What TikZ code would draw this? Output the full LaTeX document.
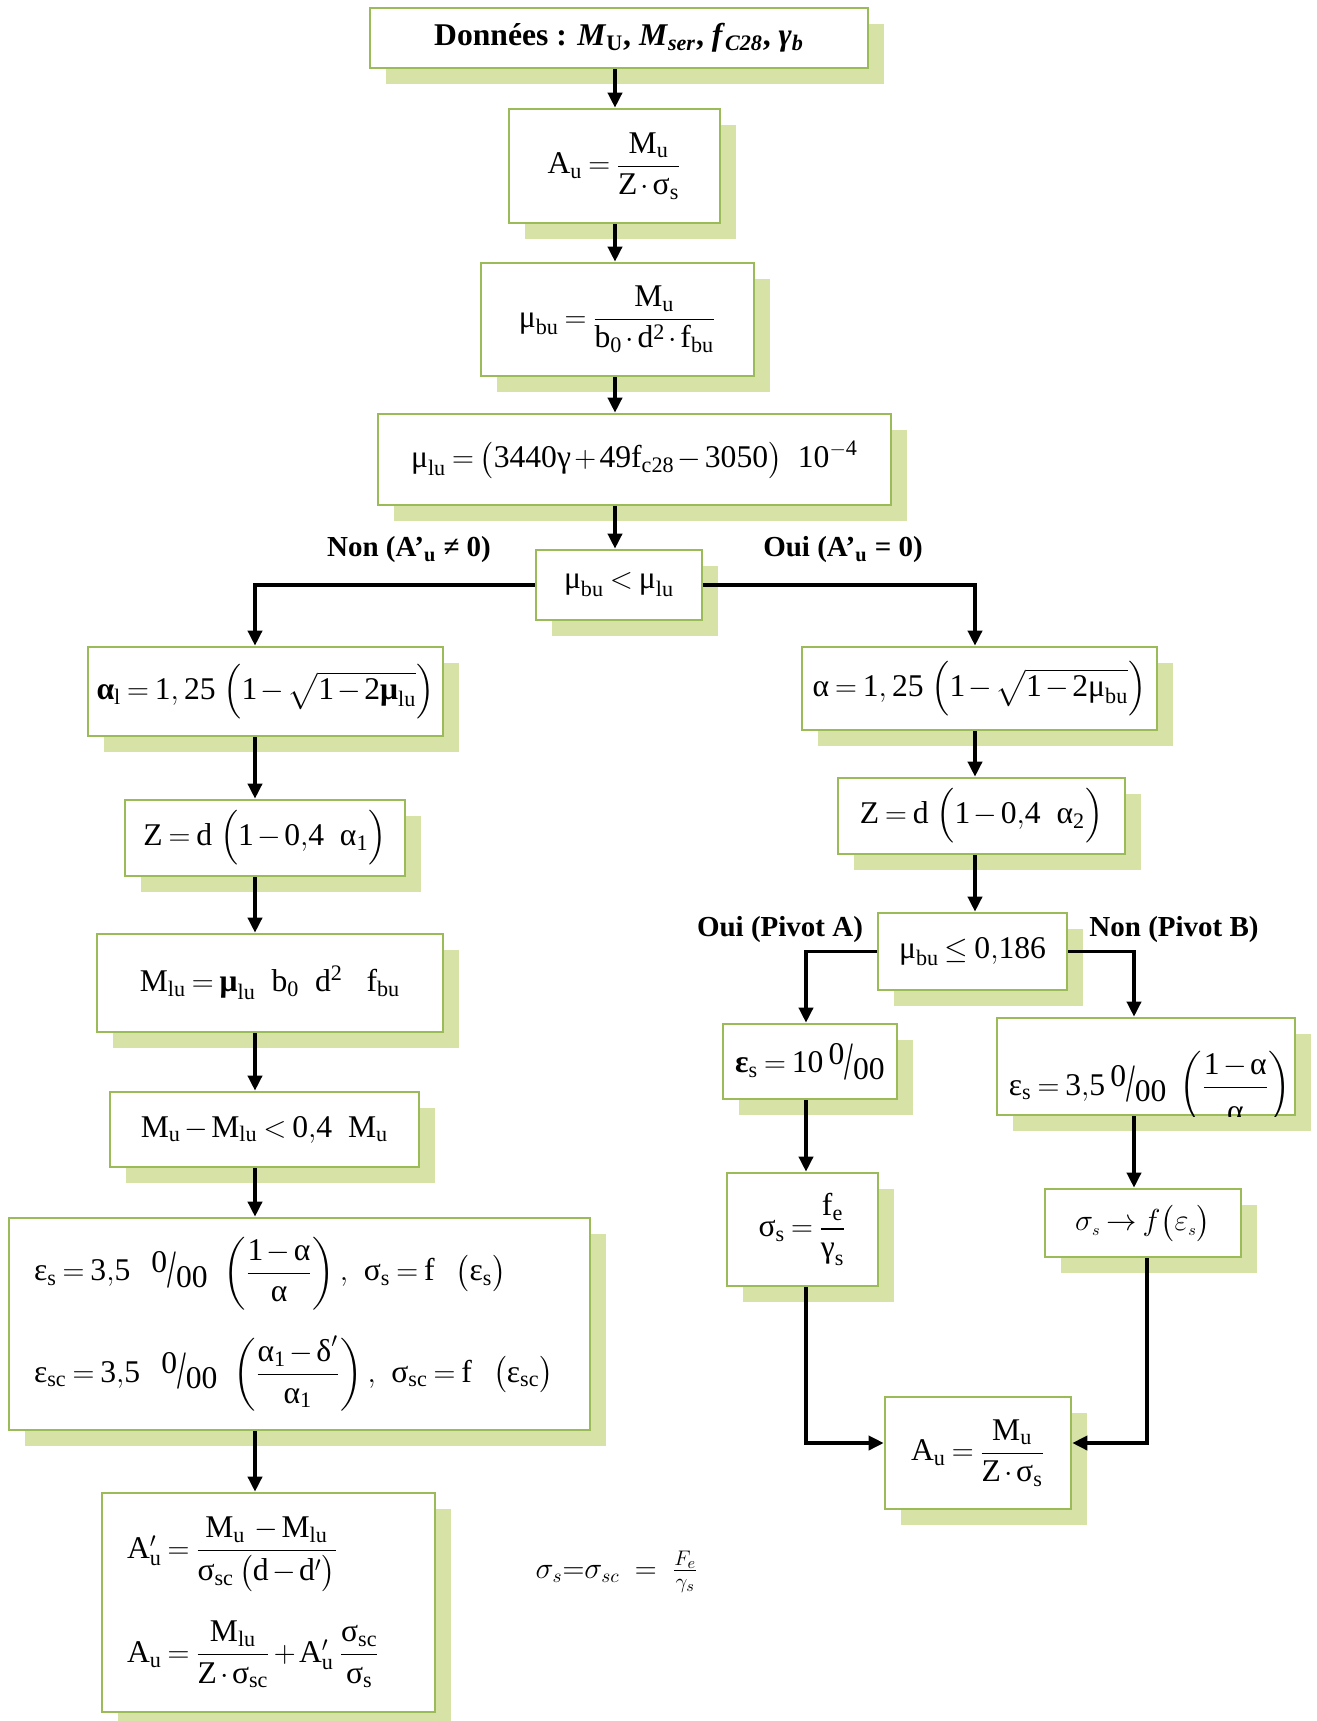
\documentclass[tikz,border=0pt]{standalone}
\usepackage{amsmath}
\usepackage{fontspec}
\setmainfont{Liberation Serif}
\usepackage{graphicx}
\usetikzlibrary{arrows.meta,shadows}

\definecolor{boxline}{RGB}{155,187,89}
\definecolor{boxshade}{RGB}{214,226,166}

\newcommand{\ral}{\text{α}}
\newcommand{\rmu}{\text{μ}}
\newcommand{\rsig}{\text{σ}}
\newcommand{\reps}{\text{ε}}
\newcommand{\rgam}{\text{γ}}
\newcommand{\rdel}{\text{δ}}
\newcommand{\bal}{\text{\bfseries α}}
\newcommand{\bmu}{\text{\bfseries μ}}
\newcommand{\beps}{\text{\bfseries ε}}
\newcommand{\pmil}{\mbox{\raisebox{0.6ex}{0}\raisebox{-0.45ex}{\scalebox{1}[1.7]{/}}\raisebox{-0.45ex}{00}}}
\newcommand{\boxfont}{\fontsize{18}{22}\selectfont\medmuskip=2mu\relax\thickmuskip=3.5mu\relax}
\newcommand{\smallm}[1]{\mbox{\fontsize{13}{14}\selectfont$#1$}}

\begin{document}
\begin{tikzpicture}[x=0.02cm, y=-0.02cm,
  box/.style={draw=boxline, line width=1.5pt, fill=white, inner sep=0pt,
    drop shadow={shadow xshift=0.32cm, shadow yshift=-0.32cm, fill=boxshade, opacity=1},
    font=\boxfont},
  arr/.style={line width=2pt, -{Triangle[length=0.3cm, width=0.28cm]}},
  lab/.style={font=\fontsize{16.5}{20}\selectfont\bfseries}]
\useasboundingbox (0,0) rectangle (1317,1721);

% Columns of the connectors
\coordinate (colM) at (615,0);
\coordinate (colL) at (255,0);
\coordinate (colR) at (975,0);
\coordinate (colA) at (806,0);
\coordinate (colB) at (1134,0);
\coordinate (colC) at (1147,0);
\coordinate (rowJ) at (0,1443);

% Main column
\node[box, minimum width=9.96cm, minimum height=1.2cm] (don) at (619,38)
  {\bfseries Données : \textit{M}\textsubscript{U}, \textit{M}\textsubscript{\textit{ser}}, \textit{f}\textsubscript{\textit{C28}}, \textit{γ}\textsubscript{\textit{b}}};
\node[box, minimum width=4.22cm, minimum height=2.28cm] (au) at (614.5,166)
  {$\mathrm{A}_\mathrm{u} = \dfrac{\mathrm{M}_\mathrm{u}}{\mathrm{Z}\cdot\rsig_\mathrm{s}}$};
\node[box, minimum width=5.46cm, minimum height=2.26cm] (mubu) at (617.5,319.5)
  {$\rmu_\mathrm{bu} = \dfrac{\mathrm{M}_\mathrm{u}}{\mathrm{b}_\mathrm{0}\cdot\mathrm{d}^\mathrm{2}\cdot\mathrm{f}_\mathrm{bu}}$};
\node[box, minimum width=10.26cm, minimum height=1.82cm] (mulu) at (634.5,459.5)
  {$\rmu_\mathrm{lu} = \bigl(\mathrm{3440}\rgam + \mathrm{49f}_\mathrm{c28} - \mathrm{3050}\bigr)\ \ \mathrm{10}^{-\mathrm{4}}$};
\node[box, minimum width=3.32cm, minimum height=1.4cm] (test) at (619,585)
  {$\rmu_\mathrm{bu} < \rmu_\mathrm{lu}$};

\node[lab] (nonA) at (409,550) {Non (A’\textsubscript{u} ≠ 0)};
\node[lab] (ouiA) at (843,550) {Oui (A’\textsubscript{u} = 0)};

% Left branch
\node[box, minimum width=7.1cm, minimum height=1.78cm] (a1) at (265.5,691.5)
  {$\bal_\mathrm{l} = \mathrm{1,25}\ \Bigl(\mathrm{1}-\sqrt{\mathrm{1}-\mathrm{2}\bmu_\mathrm{lu}}\Bigr)$};
\node[box, minimum width=5.6cm, minimum height=1.52cm] (z1) at (265,838)
  {$\mathrm{Z} = \mathrm{d}\ \Bigl(\mathrm{1}-\mathrm{0{,}4}\ \ \ral_\mathrm{1}\Bigr)$};
\node[box, minimum width=6.92cm, minimum height=1.96cm] (mlu) at (270,983)
  {$\mathrm{M}_\mathrm{lu} = \bmu_\mathrm{lu}\ \ \mathrm{b}_\mathrm{0}\ \ \mathrm{d}^\mathrm{2}\ \ \ \mathrm{f}_\mathrm{bu}$};
\node[box, minimum width=6.18cm, minimum height=1.5cm] (ineq) at (264.5,1129.5)
  {$\mathrm{M}_\mathrm{u} - \mathrm{M}_\mathrm{lu} < \mathrm{0{,}4}\ \ \mathrm{M}_\mathrm{u}$};
\node[box, minimum width=11.62cm, minimum height=4.24cm, inner xsep=0.5cm,
  text width=10.62cm, align=left] (eps) at (299.5,1324)
  {\mbox{$\reps_\mathrm{s} = \mathrm{3{,}5}\ \ \pmil\ \left(\dfrac{\mathrm{1}-\ral}{\ral}\right),\ \rsig_\mathrm{s} = \mathrm{f}\ \ \bigl(\reps_\mathrm{s}\bigr)$}\\[14pt]
   \mbox{$\reps_\mathrm{sc} = \mathrm{3{,}5}\ \ \pmil\ \left(\dfrac{\ral_\mathrm{1}-\rdel'}{\ral_\mathrm{1}}\right),\ \rsig_\mathrm{sc} = \mathrm{f}\ \ \bigl(\reps_\mathrm{sc}\bigr)$}};
\node[box, minimum width=6.66cm, minimum height=4.38cm, inner xsep=0.5cm,
  text width=5.66cm, align=left] (aprime) at (268.5,1602.5)
  {\mbox{$\mathrm{A}'_\mathrm{u} = \dfrac{\mathrm{M}_\mathrm{u}\;-\mathrm{M}_\mathrm{lu}}{\rsig_\mathrm{sc}\,\bigl(\mathrm{d}-\mathrm{d}'\bigr)}$}\\[16pt]
   \mbox{$\mathrm{A}_\mathrm{u} = \dfrac{\mathrm{M}_\mathrm{lu}}{\mathrm{Z}\cdot\rsig_\mathrm{sc}} + \mathrm{A}'_\mathrm{u}\,\dfrac{\rsig_\mathrm{sc}}{\rsig_\mathrm{s}}$}};

% Right branch
\node[box, minimum width=7.1cm, minimum height=1.66cm] (alpha) at (979.5,688.5)
  {$\ral = \mathrm{1,25}\ \Bigl(\mathrm{1}-\sqrt{\mathrm{1}-\mathrm{2}\rmu_\mathrm{bu}}\Bigr)$};
\node[box, minimum width=5.74cm, minimum height=1.52cm] (z2) at (981.5,816)
  {$\mathrm{Z} = \mathrm{d}\ \Bigl(\mathrm{1}-\mathrm{0{,}4}\ \ \ral_\mathrm{2}\Bigr)$};
\node[box, minimum width=3.78cm, minimum height=1.54cm] (piv) at (972.5,951.5)
  {$\rmu_\mathrm{bu} \le \mathrm{0{,}186}$};

\node[lab] (ouiP) at (780,930) {Oui (Pivot A)};
\node[lab] (nonP) at (1174,930) {Non (Pivot B)};

\node[box, minimum width=3.48cm, minimum height=1.5cm] (e10) at (810,1061.5)
  {$\beps_\mathrm{s} = \mathrm{10}\,\pmil$};
\node[box, minimum width=5.96cm, minimum height=1.94cm] (e35) at (1146,1066.5) {};
\begin{scope}
\clip (e35.south west) rectangle (e35.north east);
\node[font=\boxfont, inner sep=0pt] (e35t) at ([xshift=0.08cm, yshift=-0.42cm]e35.center)
  {$\reps_\mathrm{s} = \mathrm{3{,}5}\,\pmil\ \left(\dfrac{\mathrm{1}-\ral}{\rule{0pt}{0.95em}\ral}\right)$};
\end{scope}
\node[box, minimum width=3.02cm, minimum height=2.26cm] (sfe) at (802.5,1229.5)
  {$\rsig_\mathrm{s} = \dfrac{\mathrm{f}_\mathrm{e}}{\rgam_\mathrm{s}}$};
\node[box, minimum width=3.92cm, minimum height=1.36cm] (sf) at (1143,1223)
  {$\sigma_{\scriptscriptstyle s} \rightarrow f\bigl(\varepsilon_{\scriptscriptstyle s}\bigr)$};
\node[box, minimum width=3.72cm, minimum height=2.24cm] (auf) at (978,1453)
  {$\mathrm{A}_\mathrm{u} = \dfrac{\mathrm{M}_\mathrm{u}}{\mathrm{Z}\cdot\rsig_\mathrm{s}}$};

\node[font=\fontsize{16}{19}\selectfont] (note) at (617,1572)
  {$\sigma_s{=}\sigma_{sc}\ =\ \frac{\smallm{F_e}}{\smallm{\gamma_s}}$};

% Connectors
\draw[arr] (don.south -| colM) -- (au.north -| colM);
\draw[arr] (au.south -| colM) -- (mubu.north -| colM);
\draw[arr] (mubu.south -| colM) -- (mulu.north -| colM);
\draw[arr] (mulu.south -| colM) -- (test.north -| colM);
\draw[arr] (test.west) -| (a1.north -| colL);
\draw[arr] (test.east) -| (alpha.north -| colR);

\draw[arr] (a1.south -| colL) -- (z1.north -| colL);
\draw[arr] (z1.south -| colL) -- (mlu.north -| colL);
\draw[arr] (mlu.south -| colL) -- (ineq.north -| colL);
\draw[arr] (ineq.south -| colL) -- (eps.north -| colL);
\draw[arr] (eps.south -| colL) -- (aprime.north -| colL);

\draw[arr] (alpha.south -| colR) -- (z2.north -| colR);
\draw[arr] (z2.south -| colR) -- (piv.north -| colR);
\draw[arr] (piv.west) -| (e10.north -| colA);
\draw[arr] (piv.east) -| (e35.north -| colB);
\draw[arr] (e10.south -| colA) -- (sfe.north -| colA);
\draw[arr] (e35.south -| colB) -- (sf.north -| colB);
\draw[arr] (sfe.south -| colA) |- (auf.west |- rowJ);
\draw[arr] (sf.south -| colC) |- (auf.east |- rowJ);

\end{tikzpicture}
\end{document}
